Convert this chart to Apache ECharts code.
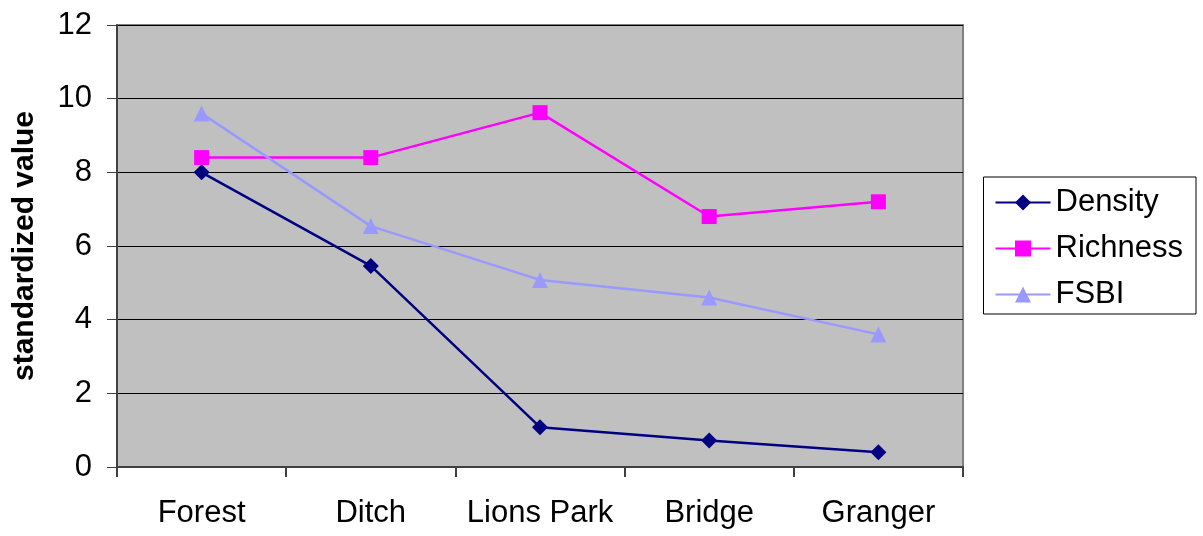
<!DOCTYPE html>
<html>
<head>
<meta charset="utf-8">
<script src="https://cdn.jsdelivr.net/npm/echarts@6/dist/echarts.min.js"></script>
<style>
  html, body { margin: 0; padding: 0; background: #fff; }
  #chart { width: 1203px; height: 536px; }
</style>
</head>
<body>
<div id="chart"></div>
<script>
const sites = ['Forest', 'Ditch', 'Lions Park', 'Bridge', 'Granger']
const density = [8.0, 5.46, 1.08, 0.72, 0.4]
const richness = [8.4, 8.4, 9.62, 6.8, 7.2]
const fsbi = [9.6, 6.54, 5.08, 4.6, 3.6]

const font = 'Liberation Sans, Arial, sans-serif'

const chart = echarts.init(document.getElementById('chart'))

const option = {
  animation: false,
  textStyle: { fontFamily: font },
  grid: {
    show: true,
    left: 117,
    right: 240,
    top: 25,
    bottom: 69,
    backgroundColor: '#c0c0c0',
    borderColor: '#808080',
    borderWidth: 2
  },
  legend: {
    orient: 'vertical',
    right: 7,
    top: 177,
    padding: [10, 13, 4, 11],
    itemGap: 15,
    itemWidth: 55,
    itemHeight: 20,
    borderColor: '#000',
    borderWidth: 1,
    backgroundColor: '#fff',
    textStyle: { fontSize: 31, color: '#000', fontFamily: font },
    data: ['Density', 'Richness', 'FSBI']
  },
  xAxis: {
    type: 'category',
    data: sites,
    boundaryGap: true,
    axisLine: { lineStyle: { color: '#404040', width: 2 } },
    axisTick: { show: true, interval: 0, length: 10, lineStyle: { color: '#404040', width: 2 } },
    axisLabel: { interval: 0, fontSize: 31, color: '#000', margin: 31, fontFamily: font }
  },
  yAxis: {
    type: 'value',
    min: 0,
    max: 12,
    interval: 2,
    name: 'standardized value',
    nameLocation: 'middle',
    nameGap: 77,
    nameTextStyle: { fontSize: 30, fontWeight: 'bold', color: '#000', fontFamily: font },
    axisLine: { show: true, lineStyle: { color: '#404040', width: 2 } },
    axisTick: { show: true, length: 10, lineStyle: { color: '#404040', width: 1 } },
    axisLabel: { fontSize: 31, color: '#000', margin: 25, fontFamily: font },
    splitLine: { lineStyle: { color: '#000', width: 1 } }
  },
  series: [
    {
      name: 'Density',
      type: 'line',
      data: density,
      color: '#000080',
      symbol: 'diamond',
      symbolSize: 16,
      lineStyle: { width: 2.5 }
    },
    {
      name: 'Richness',
      type: 'line',
      data: richness,
      color: '#ff00ff',
      symbol: 'rect',
      symbolSize: 15,
      lineStyle: { width: 2.5 }
    },
    {
      name: 'FSBI',
      type: 'line',
      data: fsbi,
      color: '#9999ff',
      symbol: 'triangle',
      symbolSize: 16,
      lineStyle: { width: 2.5 }
    }
  ]
}

chart.setOption(option)
</script>
</body>
</html>
